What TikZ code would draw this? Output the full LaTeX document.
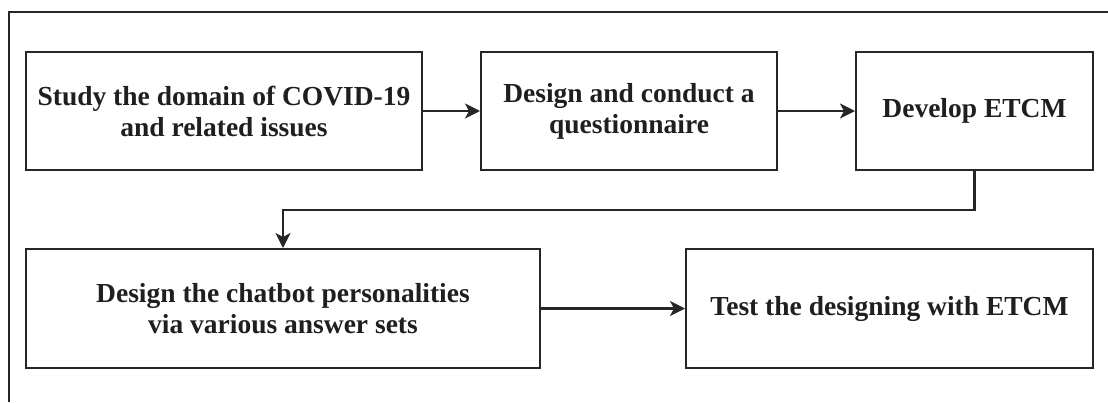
\documentclass[tikz,border=0pt]{standalone}
\usepackage{fontspec}
\setmainfont{Liberation Serif}
\usetikzlibrary{arrows.meta}
\begin{document}
\begin{tikzpicture}[x=1pt,y=-1pt,
  stepbox/.style={draw=black!85, line width=2pt, rectangle, inner sep=0pt,
    align=center, font=\fontsize{27.5}{31}\selectfont\bfseries, text=black!88},
  flow/.style={draw=black!85, line width=2.2pt,
    -{Stealth[length=15pt,width=15pt,inset=4pt]}}]
  \useasboundingbox (0,0) rectangle (1108,402);
  % outer frame
  \draw[line width=2.2pt, black!85] (9,402) -- (9,12) -- (1108,12);
  % steps, first row
  \node[stepbox, minimum width=396pt, minimum height=118pt] (s1) at (224,111)
    {Study the domain of COVID-19\\and related issues};
  \node[stepbox, minimum width=296pt, minimum height=118pt] (s2) at (629,111)
    {Design and conduct a\\questionnaire};
  \node[stepbox, minimum width=237pt, minimum height=118pt] (s3) at (974.5,111)
    {Develop ETCM};
  % steps, second row
  \node[stepbox, minimum width=514pt, minimum height=119pt] (s4) at (283,308.5)
    {Design the chatbot personalities\\via various answer sets};
  \node[stepbox, minimum width=407pt, minimum height=119pt] (s5) at (889.5,308.5)
    {Test the designing with ETCM};
  % connectors
  \coordinate (bend) at (974.5,210);
  \draw[flow] (s1) -- (s2);
  \draw[flow] (s2) -- (s3);
  \draw[flow] (s3.south) -- (bend) -| (s4.north);
  \draw[flow] (s4) -- (s5);
\end{tikzpicture}
\end{document}
